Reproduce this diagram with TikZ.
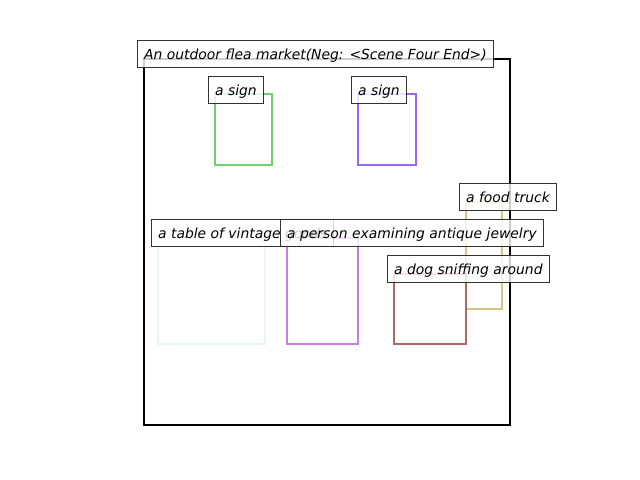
\documentclass[tikz,border=0pt]{standalone}
\usepackage{fontspec}
\setmainfont{DejaVu Sans}
\usetikzlibrary{positioning}

\definecolor{signgreen}{RGB}{112,206,116}
\definecolor{signpurple}{RGB}{150,105,240}
\definecolor{tableblue}{RGB}{232,244,252}
\definecolor{personviolet}{RGB}{200,124,232}
\definecolor{dogbrown}{RGB}{176,106,102}
\definecolor{truckyellow}{RGB}{210,196,130}

\begin{document}
\begin{tikzpicture}[x=0.72pt,y=-0.72pt,
  lbl/.style={draw=black,fill=white,fill opacity=0.8,draw opacity=0.8,text opacity=1,
    line width=0.7pt,inner xsep=4.8pt,inner ysep=4.9pt,text height=9pt,text depth=1.2pt,
    font=\itshape\fontsize{10pt}{12pt}\selectfont,anchor=west}]
\useasboundingbox (0,0) rectangle (640,480);
% scene frame
\draw[line width=2pt] (144,59) rectangle (510,425);
% object boxes
\draw[signgreen,line width=2pt] (215,94) rectangle (272,165);
\draw[signpurple,line width=2pt] (358,94) rectangle (416,165);
\draw[truckyellow,line width=2pt] (466,202) rectangle (502,309);
\draw[tableblue,line width=2pt] (158,238) rectangle (265,344);
\draw[personviolet,line width=2pt] (287,238) rectangle (358,344);
\draw[dogbrown,line width=2pt] (394,274) rectangle (466,344);
% labels
\node[lbl] (scene) at (137,54) {An outdoor flea market(Neg: <Scene Four End>)};
\node[lbl] (signa) at (208,90) {a sign};
\node[lbl] (signb) at (351,90) {a sign};
\node[lbl] (truck) at (459,197) {a food truck};
\node[lbl] (table) at (151,233) {a table of vintage goods};
\node[lbl] (person) at (280,233) {a person examining antique jewelry};
\node[lbl] (dog) at (387,269) {a dog sniffing around};
\end{tikzpicture}
\end{document}
